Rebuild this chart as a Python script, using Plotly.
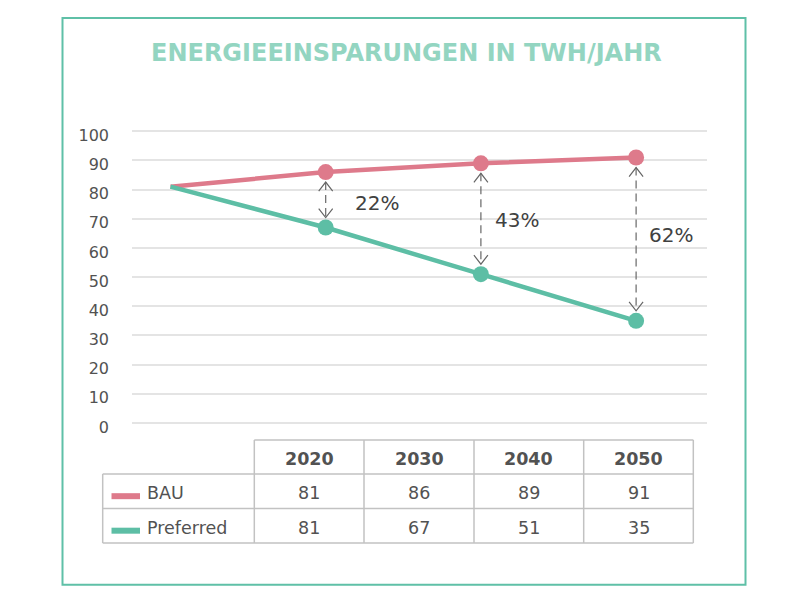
import plotly.graph_objects as go

# values (TWh/Jahr)
years = [2020, 2030, 2040, 2050]
bau = [81, 86, 89, 91]
preferred = [81, 67, 51, 35]
savings_pct = [22, 43, 62]          # 2030, 2040, 2050
series_names = ['BAU', 'Preferred']
y_ticks = list(range(0, 101, 10))

# page body has an 8px margin; the photo comes out squeezed a little vertically,
# so positions below are given in photo pixels and mapped back
OFF = 8
SY, BY = 0.973, 3.7
W, H = 800 - 2 * OFF, 600
pink = '#de7a8b'
teal = '#5dbea5'
title_col = '#93d5c1'
txt = '#525252'
grid_col = '#e4e4e4'
table_line = '#c2c2c2'
FONT = 'DejaVu Sans'


def px(x):
    return (x - OFF) / W


def py(y):
    page_y = (y - BY) / SY
    return 1 - (page_y - OFF) / H


# plot area in photo pixels
x_left, x_right = 132, 707
y_top, y_bot = 130.7, 422.3
unit = (y_bot - y_top) / 100        # px per TWh
x_first, x_scale = 170.5, 15.52     # px of 2020, px per year
pad = 0.5

fig = go.Figure()

for name, vals, col in zip(series_names, [bau, preferred], [pink, teal]):
    fig.add_trace(go.Scatter(
        x=years, y=vals, name=name, mode='lines+markers',
        line=dict(color=col, width=4.5),
        marker=dict(size=[0] + [16] * (len(years) - 1), color=col, opacity=1,
                    line=dict(width=0)),
        showlegend=False, hoverinfo='skip'))

shapes = []
annotations = []

# double arrows with the savings
gap = 10 / unit
arrow_col = '#666666'
label_dx = [27, 12, 11]
label_dy = [-3, -1, 4]
for i, yr in enumerate(years[1:], 1):
    top = bau[i] - gap
    bot = preferred[i] + gap
    shapes.append(dict(type='line', xref='x', yref='y', x0=yr, x1=yr, y0=top, y1=bot,
                       line=dict(color=arrow_col, width=1.2, dash='8px,5px')))
    shapes.append(dict(type='path', xref='x', yref='y', xsizemode='pixel', ysizemode='pixel',
                       xanchor=yr, yanchor=top, path='M-7,-9 L0,0 L7,-9',
                       line=dict(color=arrow_col, width=1.2)))
    shapes.append(dict(type='path', xref='x', yref='y', xsizemode='pixel', ysizemode='pixel',
                       xanchor=yr, yanchor=bot, path='M-7,9 L0,0 L7,9',
                       line=dict(color=arrow_col, width=1.2)))
    annotations.append(dict(x=yr, y=(bau[i] + preferred[i]) / 2, xref='x', yref='y',
                            text=f'{savings_pct[i - 1]}%', showarrow=False,
                            xanchor='left', yanchor='middle',
                            xshift=label_dx[i - 1], yshift=label_dy[i - 1],
                            font=dict(family=FONT, size=20, color='#414141')))

# data table below the chart
col_edges = [102.7, 254.3, 364, 474, 583.7, 693.3]
row_edges = [439.3, 473.3, 507.7, 542.3]
tl = dict(color=table_line, width=1.5)


def hline(y, xa, xb):
    shapes.append(dict(type='line', xref='paper', yref='paper',
                       x0=px(xa), x1=px(xb), y0=py(y), y1=py(y), line=tl))


def vline(x, ya, yb):
    shapes.append(dict(type='line', xref='paper', yref='paper',
                       x0=px(x), x1=px(x), y0=py(ya), y1=py(yb), line=tl))


def cell_text(x, y, text, size, anchor='center'):
    annotations.append(dict(x=px(x), y=py(y), xref='paper', yref='paper', text=text,
                            showarrow=False, xanchor=anchor, yanchor='middle', yshift=-2,
                            font=dict(family=FONT, size=size, color=txt)))


hline(row_edges[0], col_edges[1], col_edges[-1])
for y in row_edges[1:]:
    hline(y, col_edges[0], col_edges[-1])
vline(col_edges[0], row_edges[1], row_edges[-1])
for x in col_edges[1:]:
    vline(x, row_edges[0], row_edges[-1])

for j, yr in enumerate(years):
    cx = (col_edges[j + 1] + col_edges[j + 2]) / 2
    cell_text(cx, (row_edges[0] + row_edges[1]) / 2, f'<b>{yr}</b>', 17.5)

for r, (name, vals, col) in enumerate(zip(series_names, [bau, preferred], [pink, teal])):
    cy = (row_edges[r + 1] + row_edges[r + 2]) / 2
    shapes.append(dict(type='line', xref='paper', yref='paper',
                       x0=px(111.5), x1=px(140), y0=py(cy + 5), y1=py(cy + 5),
                       line=dict(color=col, width=6)))
    cell_text(145, cy, name, 17.5, anchor='left')
    for j, v in enumerate(vals):
        cx = (col_edges[j + 1] + col_edges[j + 2]) / 2
        cell_text(cx, cy, str(v), 17.5)

# frame and title
shapes.append(dict(type='rect', xref='paper', yref='paper',
                   x0=px(62.5), x1=px(745.5), y0=py(584), y1=py(17.5),
                   line=dict(color='#5fc0a7', width=2)))
annotations.append(dict(x=px(406), y=py(51), xref='paper', yref='paper',
                        text='<b>ENERGIEEINSPARUNGEN IN TWH/JAHR</b>', showarrow=False,
                        xanchor='center', yanchor='middle', yshift=-1,
                        font=dict(family=FONT, size=24, color=title_col)))

fig.update_layout(
    width=W, height=H,
    margin=dict(l=0, r=0, t=0, b=0, pad=0),
    paper_bgcolor='white', plot_bgcolor='white',
    shapes=shapes, annotations=annotations,
    xaxis=dict(domain=[px(x_left), px(x_right)],
               range=[2020 - (x_first - x_left) / x_scale, 2020 + (x_right - x_first) / x_scale],
               visible=False, fixedrange=True),
    yaxis=dict(domain=[py(y_bot + pad * unit), py(y_top - pad * unit)],
               range=[-pad, 100 + pad], tickvals=y_ticks,
               showgrid=True, gridcolor=grid_col, gridwidth=1.5,
               zeroline=False, showline=False, ticks='',
               tickfont=dict(family=FONT, size=16, color=txt),
               ticklabelstandoff=22, ticklabelshift=4, fixedrange=True),
)

fig.write_html('out.html')
